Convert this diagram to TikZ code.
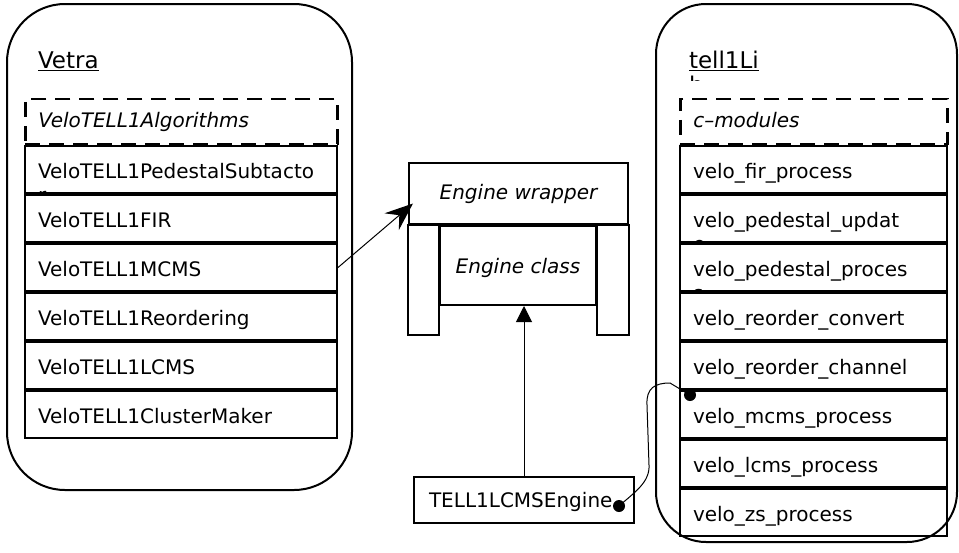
\documentclass[tikz,border=0pt]{standalone}
\usepackage{fontspec}
\setmainfont{DejaVu Sans}
\usetikzlibrary{arrows.meta, positioning}

\tikzset{
  vrow/.style={draw, minimum height=47pt, text width=286pt, inner xsep=13pt,
    align=left, text height=17pt, text depth=0pt},
  crow/.style={vrow, text width=241pt},
  dashbox/.style={draw, dash pattern=on 15pt off 9pt, line width=2.5pt,
    minimum height=45pt, inner xsep=13pt, align=left, text height=13pt,
    text depth=0pt, font=\fontsize{20}{24}\selectfont\itshape},
  engbox/.style={draw, font=\fontsize{20}{24}\selectfont\itshape, text depth=0pt},
  pkgname/.style={font=\fontsize{23}{27}\selectfont, inner sep=0pt},
  link/.style={line width=1pt},
  blob/.style={circle, fill, inner sep=0pt, minimum size=12pt},
}

\begin{document}
\begin{tikzpicture}[x=1pt, y=-1pt, line width=2pt, font=\fontsize{20}{24}\selectfont]
  \useasboundingbox (0,0) rectangle (959,552);

  % Vetra package
  \draw[rounded corners=58pt] (7,4) rectangle (352,490);
  \node[pkgname, anchor=base west] (vetra) at (37,68) {\underline{Vetra}};
  \node[vrow, anchor=north west] (pedsub) at (24,145) {VeloTELL1PedestalSubtacto};
  \node[vrow, below=0pt of pedsub] (fir) {VeloTELL1FIR};
  \node[vrow, below=0pt of fir] (mcms) {VeloTELL1MCMS};
  \node[vrow, below=0pt of mcms] (reord) {VeloTELL1Reordering};
  \node[vrow, below=0pt of reord] (lcms) {VeloTELL1LCMS};
  \node[vrow, below=0pt of lcms] (clus) {VeloTELL1ClusterMaker};
  \node[dashbox, text width=286pt, anchor=south west] (algs) at (pedsub.north west) {VeloTELL1Algorithms};
  \begin{scope}
    \clip (pedsub.north west) rectangle (pedsub.south east);
    \node[inner sep=0pt, anchor=base west] at ([shift={(13,8)}]pedsub.south west) {r};
  \end{scope}

  % tell1Lib package
  \draw[rounded corners=50pt] (656,4) rectangle (957,542);
  \node[pkgname, anchor=base west] (tlib) at (688,68) {\underline{tell1Li}};
  \begin{scope}
    \clip (680,74) rectangle (720,80);
    \node[pkgname, anchor=base west] at (688,93) {b};
  \end{scope}
  \node[crow, anchor=north west] (cfir) at (679,145) {velo\_fir\_process};
  \node[crow, below=0pt of cfir] (cpedupd) {velo\_pedestal\_updat};
  \node[crow, below=0pt of cpedupd] (cpedproc) {velo\_pedestal\_proces};
  \node[crow, below=0pt of cpedproc] (creconv) {velo\_reorder\_convert};
  \node[crow, below=0pt of creconv] (crechan) {velo\_reorder\_channel};
  \node[crow, below=0pt of crechan] (cmcms) {velo\_mcms\_process};
  \node[crow, below=0pt of cmcms] (clcms) {velo\_lcms\_process};
  \node[crow, below=0pt of clcms] (czs) {velo\_zs\_process};
  \node[dashbox, text width=241pt, anchor=south west] (cmods) at (cfir.north west) {c–modules};
  \begin{scope}
    \clip (cpedupd.north west) rectangle (cpedupd.south east);
    \node[inner sep=0pt, anchor=base west] at ([shift={(13,8)}]cpedupd.south west) {e};
  \end{scope}
  \begin{scope}
    \clip (cpedproc.north west) rectangle (cpedproc.south east);
    \node[inner sep=0pt, anchor=base west] at ([shift={(13,8)}]cpedproc.south west) {s};
  \end{scope}

  % engine
  \node[engbox, minimum width=219pt, minimum height=61pt, text height=11pt,
    anchor=north west] (wrap) at (408,162) {Engine wrapper};
  \draw (wrap.south west) rectangle ++(31,110);
  \draw (wrap.south east) rectangle ++(-32,110);
  \node[engbox, minimum width=156pt, minimum height=79pt, text height=15pt,
    anchor=north west] (cls) at ([shift={(31,0)}]wrap.south west) {Engine class};
  \node[draw, minimum width=220pt, minimum height=46pt, text width=190pt,
    inner xsep=15pt, align=left, text height=14pt, text depth=0pt,
    anchor=north west] (lcmseng) at (413,476) {TELL1LCMSEngine};

  % connectors
  \draw[link, -{Stealth[width=22pt,length=28pt,inset=10pt]}] (mcms.east) -- ([shift={(5,10)}]wrap.west);
  \draw[link, -{Triangle[width=16pt,length=16pt]}] (lcmseng.north) -- (lcmseng.north |- cls.south);
  \node[blob] (d1) at ([shift={(-16,6)}]lcmseng.east) {};
  \node[blob] (d2) at ([shift={(11,5)}]cmcms.north west) {};
  \draw[link] (d1.center) .. controls (635,492) and (650,482) .. (649,465) -- (647,405)
    .. controls (646,388) and (655,383) .. (670,383) -- (d2.center);
\end{tikzpicture}
\end{document}
